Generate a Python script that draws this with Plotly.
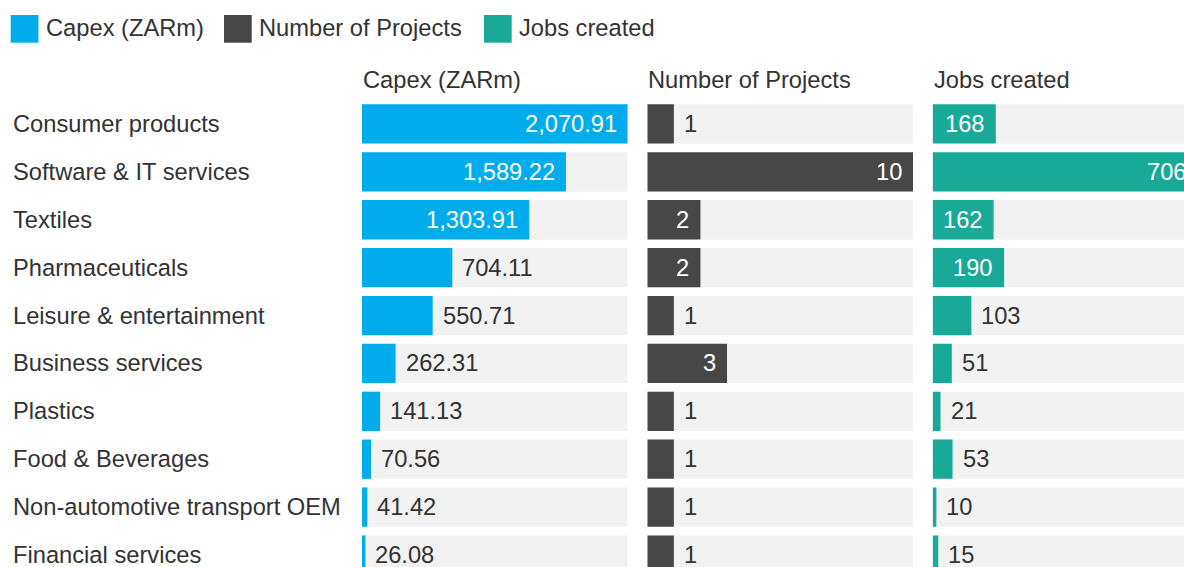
import plotly.graph_objects as go

# ---- data -------------------------------------------------------------
categories = [
    "Consumer products",
    "Software & IT services",
    "Textiles",
    "Pharmaceuticals",
    "Leisure & entertainment",
    "Business services",
    "Plastics",
    "Food & Beverages",
    "Non-automotive transport OEM",
    "Financial services",
]
capex = [2070.91, 1589.22, 1303.91, 704.11, 550.71, 262.31, 141.13, 70.56, 41.42, 26.08]
projects = [1, 10, 2, 2, 1, 3, 1, 1, 1, 1]
jobs = [168, 706, 162, 190, 103, 51, 21, 53, 10, 15]

series_names = ["Capex (ZARm)", "Number of Projects", "Jobs created"]
series_values = [capex, projects, jobs]
series_formats = [",.2f", "d", "d"]

# ---- styling ----------------------------------------------------------
COLORS = ["#00ACEC", "#474747", "#19AA97"]
TRACK = "#F2F2F2"
TEXT = "#333333"
FONT = "Liberation Sans, Arial, Helvetica, sans-serif"
FS = 23.7

W, H = 1200, 567
TOP = 100
PLOT_H = H - TOP
PANEL_W = 265.7
PANEL_X = [362.0, 647.3, 932.6]
PAD_IN, PAD_OUT = 10, 9


def px_x(px):
    return px / W


def px_y(py):
    return (H - py) / PLOT_H


def text_width(s):
    narrow = sum(1 for c in s if c in ",.")
    return ((len(s) - narrow) * 0.556 + narrow * 0.278) * FS


fig = go.Figure()
annotations = []

for i, (name, vals, fmt) in enumerate(zip(series_names, series_values, series_formats)):
    xa = "x" if i == 0 else f"x{i + 1}"
    vmax = max(vals)

    # light track behind each bar
    fig.add_trace(go.Bar(
        x=[vmax] * len(vals), y=categories, orientation="h",
        marker=dict(color=TRACK, line=dict(width=0)),
        xaxis=xa, yaxis="y", showlegend=False, hoverinfo="skip",
    ))
    fig.add_trace(go.Bar(
        x=vals, y=categories, orientation="h", name=name,
        marker=dict(color=COLORS[i], line=dict(width=0)),
        xaxis=xa, yaxis="y", showlegend=False,
    ))

    # value labels: inside (white) when they fit, otherwise just right of the bar
    for cat, v in zip(categories, vals):
        label = format(v, fmt)
        bar_px = v / vmax * PANEL_W
        inside = text_width(label) + 2 * 10.5 <= bar_px
        annotations.append(dict(
            x=v, y=cat, xref=xa, yref="y", text=label, showarrow=False,
            xanchor="right" if inside else "left",
            xshift=-PAD_IN if inside else PAD_OUT,
            yanchor="middle", borderpad=0,
            font=dict(family=FONT, size=FS, color="white" if inside else TEXT),
        ))

    # panel heading
    annotations.append(dict(
        x=0, xref=f"{xa} domain", xanchor="left", xshift=0,
        y=px_y(80.5), yref="paper", yanchor="middle",
        text=name, showarrow=False, borderpad=0,
        font=dict(family=FONT, size=FS, color=TEXT),
    ))

# category labels, left aligned
for cat in categories:
    annotations.append(dict(
        x=px_x(12.3), xref="paper", xanchor="left", y=cat, yref="y",
        yanchor="middle", text=cat, showarrow=False, borderpad=0,
        font=dict(family=FONT, size=FS, color=TEXT),
    ))

# legend row
shapes = []
legend_swatch_x = [10.7, 224.0, 484.0]
for i, name in enumerate(series_names):
    x0 = legend_swatch_x[i]
    shapes.append(dict(
        type="rect", xref="paper", yref="paper",
        x0=px_x(x0), x1=px_x(x0 + 27.7), y0=px_y(42.7), y1=px_y(15),
        fillcolor=COLORS[i], line=dict(width=0), layer="above",
    ))
    annotations.append(dict(
        x=px_x(x0 + 34), xref="paper", xanchor="left",
        y=px_y(28.5), yref="paper", yanchor="middle",
        text=name, showarrow=False, borderpad=0,
        font=dict(family=FONT, size=FS, color=TEXT),
    ))

axis_common = dict(visible=False, showgrid=False, zeroline=False, fixedrange=True)
layout_axes = {}
for i in range(3):
    key = "xaxis" if i == 0 else f"xaxis{i + 1}"
    layout_axes[key] = dict(
        domain=[px_x(PANEL_X[i]), px_x(PANEL_X[i] + PANEL_W)],
        range=[0, max(series_values[i])], anchor="y", **axis_common,
    )

fig.update_layout(
    width=W, height=H,
    margin=dict(l=0, r=0, t=TOP, b=0, pad=0),
    paper_bgcolor="white", plot_bgcolor="white",
    barmode="overlay", bargap=0.18,
    showlegend=False,
    yaxis=dict(type="category", categoryorder="array", categoryarray=categories,
               range=[9.25, -0.5], **axis_common),
    annotations=annotations, shapes=shapes,
    font=dict(family=FONT, size=FS, color=TEXT),
    **layout_axes,
)

fig.write_html(
    "out.html",
    config={"displayModeBar": False},
    post_script="document.documentElement.style.overflow='hidden';"
                "document.body.style.overflow='hidden';document.body.style.margin='0';",
)
